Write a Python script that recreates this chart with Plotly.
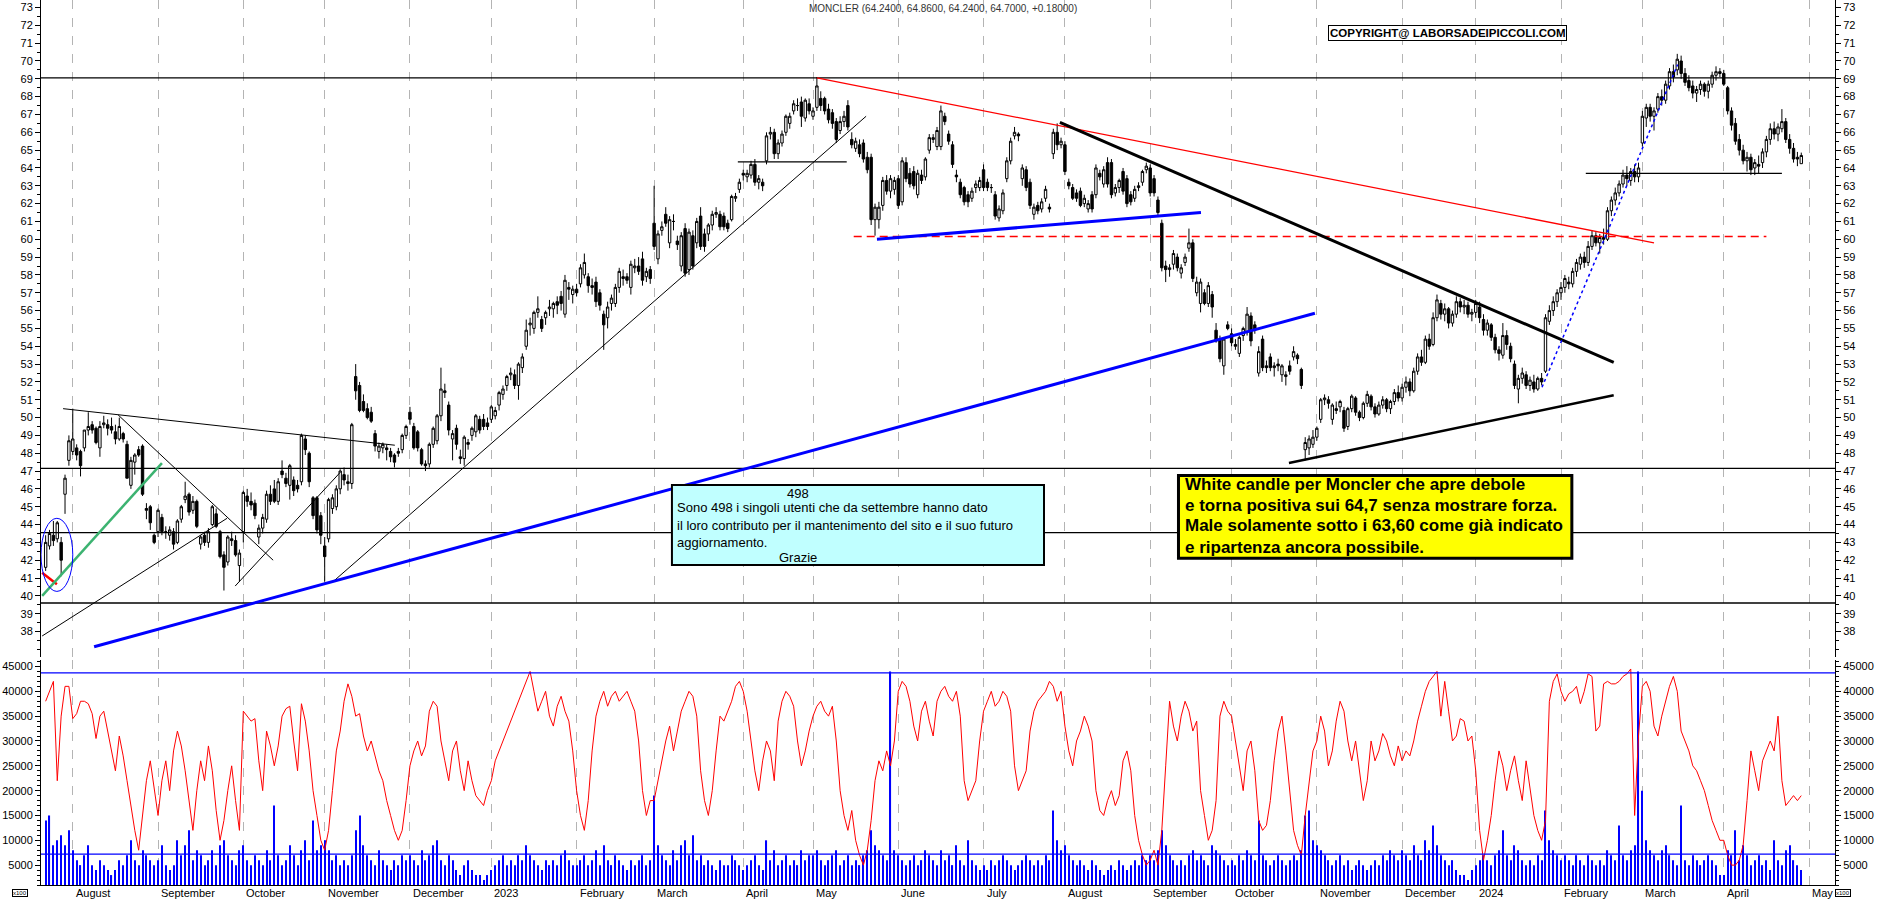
import pandas as pd
import plotly.graph_objects as go

# ---------------- calendar ----------------
first_day = "2022-07-21"
last_day = "2024-04-29"
axis_end = "2024-05-10"
holidays = ["2022-08-15", "2022-12-26", "2023-04-07", "2023-04-10", "2023-05-01",
            "2023-08-15", "2023-12-25", "2023-12-26", "2024-01-01", "2024-05-01"]
month_labels = ["August", "September", "October", "November", "December", "2023",
                "February", "March", "April", "May", "June", "July", "August",
                "September", "October", "November", "December", "2024", "February",
                "March", "April", "May"]

# ---------------- daily candles (open, high, low, close) per month ----------------
c_2022_07 = [(41.6,43.4,41.4,43.0),(42.8,43.7,42.6,43.5),(43.4,44.2,42.8,43.1),(43.2,44.2,43.0,44.1),
             (43.0,43.3,41.1,42.0),(45.7,46.8,44.6,46.6),(47.6,49.0,47.3,48.7)]
c_2022_08 = [(48.1,50.5,47.9,48.8),(48.3,48.5,47.6,47.9),(48.1,48.2,46.7,47.3),(48.3,49.3,48.1,49.3),
             (49.3,50.3,49.0,49.5),(49.6,49.8,49.1,49.3),(49.4,49.5,48.5,48.6),(48.3,49.8,47.8,49.5),
             (49.6,50.1,49.4,49.7),(49.6,49.9,49.0,49.4),(49.5,50.0,49.1,49.3),(49.2,49.6,48.5,48.8),
             (48.8,50.0,48.7,49.5),(49.1,49.2,48.6,48.8),(48.5,48.7,46.6,46.6),(46.2,47.8,46.0,47.6),
             (47.5,48.0,46.8,47.9),(48.2,48.4,47.8,47.9),(48.4,48.5,45.6,45.7),(44.9,45.2,44.3,44.8),
             (45.0,45.1,43.7,44.1),(43.4,43.5,42.9,43.0)]
c_2022_09 = [(43.6,44.9,43.3,44.8),(44.4,44.6,43.4,43.6),(43.6,43.9,43.2,43.6),(43.4,43.9,43.1,43.7),
             (43.6,43.8,42.6,42.9),(43.0,44.3,42.9,44.2),(44.3,45.1,44.1,45.0),(45.4,46.4,45.2,45.6),
             (45.7,45.8,44.5,44.7),(44.8,45.6,44.6,45.3),(45.3,45.4,43.8,43.9),(42.9,43.4,42.6,43.3),
             (43.4,43.6,42.8,43.0),(43.0,43.8,42.7,43.6),(44.0,45.1,43.9,45.0),(44.6,44.9,43.8,43.9),
             (43.6,43.7,42.1,42.2),(42.3,42.5,40.3,41.6),(41.9,43.4,41.7,43.3),(43.2,43.6,42.8,43.1),
             (43.1,43.4,42.2,42.3),(41.7,42.6,40.8,42.4)]
c_2022_10 = [(43.6,45.9,43.0,45.8),(45.6,46.0,45.0,45.3),(45.3,45.8,44.8,45.1),(45.2,45.4,44.3,44.5),
             (43.3,44.0,42.9,43.8),(43.8,44.6,43.5,44.4),(44.3,45.9,44.1,45.7),(45.7,46.2,45.1,45.3),
             (46.0,46.5,45.2,45.3),(45.3,46.6,45.1,46.4),(47.0,47.6,46.6,46.8),(46.6,46.9,46.1,46.3),
             (46.2,47.4,45.4,47.3),(46.5,46.7,45.6,45.9),(46.2,46.5,45.8,46.0),(46.4,49.1,46.2,49.0),
             (48.8,49.0,47.9,48.2),(48.0,48.1,46.1,46.4),(45.5,45.6,44.3,44.5),(45.5,45.6,43.5,43.7),
             (44.5,44.7,42.9,43.4)]
c_2022_11 = [(42.8,43.3,40.8,42.2),(43.2,45.5,43.0,45.4),(44.9,45.7,44.6,45.5),(45.0,46.2,44.8,46.0),
             (46.0,47.1,45.7,47.0),(46.8,47.2,46.2,46.5),(46.4,46.8,45.9,46.3),(46.3,49.7,46.0,49.6),
             (52.3,53.0,51.0,51.5),(51.8,52.0,50.3,50.4),(50.9,51.3,50.3,50.4),(50.5,50.8,49.9,50.0),
             (50.3,50.6,49.7,49.8),(49.1,49.3,48.1,48.4),(48.1,48.6,47.7,48.4),(48.3,48.6,48.0,48.5),
             (48.3,48.5,47.6,48.2),(48.1,48.3,47.5,47.8),(47.9,48.0,47.2,47.5),(48.1,48.3,47.8,48.0),
             (48.2,49.1,48.0,49.0),(49.0,49.6,48.8,49.5)]
c_2022_12 = [(50.3,50.6,49.6,49.9),(49.5,49.7,48.2,48.3),(49.2,49.3,48.1,48.3),(48.2,48.3,47.3,47.4),
             (47.4,47.6,47.0,47.3),(47.4,48.6,47.2,48.5),(48.5,49.5,48.3,49.4),(48.7,50.2,48.5,50.1),
             (50.1,52.8,49.8,51.6),(51.5,51.9,51.1,51.4),(50.7,50.9,49.0,49.3),(48.8,49.3,47.6,49.1),
             (49.4,49.6,48.2,48.5),(47.8,48.2,47.4,47.7),(47.7,49.0,47.3,48.9),(48.6,48.8,48.2,48.5),
             (49.0,49.5,48.7,49.4),(49.2,50.2,48.9,50.1),(49.9,50.1,49.1,49.3),(49.9,50.2,49.3,49.5),
             (49.7,50.0,49.3,49.5)]
c_2023_01 = [(49.9,50.7,49.7,50.6),(50.1,50.6,49.9,50.4),(50.7,51.5,50.4,51.4),(51.3,51.8,51.0,51.6),
             (51.8,52.4,51.5,52.3),(52.4,52.8,52.1,52.5),(52.4,52.7,51.6,51.8),(51.8,53.1,51.0,53.0),
             (52.8,53.6,52.5,53.4),(54.0,55.5,53.8,54.9),(55.2,55.6,54.6,55.3),(55.0,56.0,54.7,55.9),
             (55.9,56.8,55.6,56.1),(55.5,55.7,54.8,55.0),(55.6,56.0,55.2,55.9),(56.1,56.6,55.7,56.2),
             (56.1,56.5,55.6,56.4),(56.5,56.8,55.8,56.3),(56.8,57.1,56.0,56.4),(55.8,58.0,55.6,57.7),
             (57.3,57.6,56.6,57.2),(56.9,57.4,56.4,57.2)]
c_2023_02 = [(57.2,57.5,56.8,57.0),(57.5,58.6,57.3,58.4),(58.0,59.2,57.8,58.7),(57.9,58.1,57.0,57.4),
             (57.4,57.8,56.9,57.3),(57.6,57.9,56.2,56.5),(57.0,57.2,56.0,56.3),(55.8,56.0,53.8,55.2),
             (55.6,56.5,55.0,56.2),(56.4,56.9,56.0,56.7),(56.4,57.5,56.2,57.3),(57.3,58.4,57.0,58.2),
             (57.9,58.3,57.4,57.8),(57.9,58.1,57.5,57.7),(57.3,58.8,56.9,58.6),(58.4,58.9,58.1,58.5),
             (58.5,59.0,58.0,58.2),(58.9,59.3,57.4,57.7),(57.9,58.4,57.6,58.2),(58.3,58.5,57.5,57.8)]
c_2023_03 = [(60.9,63.0,59.4,59.6),(58.9,60.5,58.6,60.3),(60.5,61.0,60.2,60.7),(61.4,61.8,60.7,60.9),
             (59.8,61.3,59.5,61.1),(61.0,61.4,60.5,61.0),(59.9,60.2,59.4,59.7),(58.5,60.4,58.2,60.2),
             (60.6,60.9,57.9,58.1),(58.3,60.6,58.0,60.4),(60.2,60.5,58.3,58.5),(59.8,61.2,59.5,61.0),
             (61.3,61.8,59.4,59.6),(60.3,60.6,59.3,59.6),(60.3,60.9,59.9,60.8),(60.8,61.6,60.5,61.4),
             (61.4,61.8,61.2,61.5),(61.4,61.6,60.5,60.7),(61.3,61.5,60.5,60.7),(60.9,61.1,60.4,60.6),
             (61.1,62.5,61.0,62.4),(62.3,62.6,62.1,62.4),(62.8,63.4,62.6,63.2)]
c_2023_04 = [(63.7,63.9,63.3,63.6),(63.5,63.9,63.2,63.7),(63.6,64.4,63.4,64.2),(64.2,64.5,63.0,63.2),
             (63.2,63.6,62.8,63.4),(63.2,63.4,62.7,63.0),(64.4,66.0,64.2,65.8),(65.9,66.3,65.6,66.0),
             (66.0,66.2,64.5,64.8),(64.8,65.6,64.5,65.4),(65.4,66.1,65.2,65.9),(66.0,67.0,65.8,66.9),
             (66.5,67.1,66.2,66.9),(67.2,67.8,67.0,67.6),(67.5,67.9,67.2,67.5),(67.7,68.0,66.3,66.9),
             (66.8,67.9,66.6,67.8),(67.6,67.9,67.0,67.2)]
c_2023_05 = [(66.9,67.4,66.7,67.2),(67.4,69.1,67.2,68.6),(67.9,68.3,67.2,67.5),(67.9,68.0,67.0,67.2),
             (67.3,67.6,66.5,66.7),(67.1,67.3,66.2,66.5),(66.6,66.8,65.4,65.6),(66.1,66.9,65.9,66.6),
             (66.6,67.2,66.3,66.9),(67.5,67.8,66.1,66.3),(65.6,66.0,65.1,65.3),(65.1,65.7,64.9,65.5),
             (65.3,65.6,64.6,64.8),(65.4,65.6,64.3,64.5),(64.6,64.9,63.7,63.9),(64.6,64.8,60.8,61.1),
             (61.1,62.0,60.2,61.8),(61.1,62.1,60.6,61.8),(61.9,63.5,61.6,63.3),(63.3,63.6,62.5,62.7),
             (62.7,63.6,62.3,63.4),(62.8,63.5,62.5,63.3)]
c_2023_06 = [(63.4,63.6,61.7,61.9),(62.1,64.6,61.9,64.4),(64.3,64.6,63.2,63.4),(63.7,64.0,62.9,63.1),
             (63.8,64.1,62.8,63.0),(62.5,63.9,62.3,63.7),(63.6,63.9,63.1,63.3),(63.5,64.6,63.3,64.5),
             (65.0,65.9,64.8,65.7),(65.6,65.9,65.4,65.7),(65.2,66.3,65.0,66.1),(65.2,67.5,65.0,67.2),
             (66.9,67.1,66.4,66.6),(65.9,66.1,65.3,65.5),(65.3,65.5,64.0,64.2),(63.6,63.9,63.2,63.5),
             (63.2,63.4,62.3,62.5),(62.9,63.0,61.9,62.1),(62.5,62.7,61.8,62.1),(62.3,62.9,62.1,62.7),
             (62.9,63.3,62.6,63.1),(62.9,63.5,62.7,63.3)]
c_2023_07 = [(63.9,64.2,62.7,62.9),(63.2,63.4,62.7,62.9),(62.9,63.1,62.6,62.9),(62.5,62.7,61.1,61.3),
             (61.2,61.9,61.0,61.7),(61.6,62.8,61.4,62.6),(63.4,64.6,63.2,64.4),(64.4,65.7,64.2,65.5),
             (65.8,66.3,65.6,66.0),(65.9,66.0,65.5,65.8),(63.4,64.2,63.0,64.0),(63.9,64.1,62.7,62.9),
             (63.2,63.4,61.7,61.9),(61.4,62.0,61.1,61.8),(61.9,62.1,61.4,61.6),(61.7,62.3,61.5,62.1),
             (62.3,63.0,62.1,62.8),(61.8,62.0,61.5,61.7),(64.8,66.2,64.5,66.0),(66.0,66.5,65.0,65.3),
             (65.3,65.7,65.1,65.5)]
c_2023_08 = [(65.3,65.5,63.6,63.8),(63.2,63.4,62.8,63.0),(62.9,63.1,62.2,62.3),(62.6,62.8,62.1,62.3),
             (62.7,62.9,61.8,61.9),(62.0,62.5,61.8,62.3),(61.7,62.2,61.5,62.0),(62.5,62.7,61.5,61.7),
             (62.5,64.2,62.3,64.0),(63.7,63.9,63.3,63.5),(63.1,64.1,62.9,63.9),(64.3,64.6,62.9,63.1),
             (64.3,64.5,62.3,62.5),(62.6,63.1,62.4,62.9),(62.9,63.4,62.6,63.3),(63.8,64.0,62.5,62.7),
             (63.4,63.6,61.8,62.0),(62.5,62.7,61.9,62.1),(62.3,63.0,62.1,62.8),(62.9,63.2,62.7,63.0),
             (63.2,63.9,63.0,63.8),(63.9,64.3,63.7,64.1)]
c_2023_09 = [(64.0,64.2,62.4,62.6),(63.4,63.6,62.4,62.6),(62.2,62.4,61.3,61.5),(60.9,61.1,58.2,58.4),
             (58.5,58.8,57.6,58.3),(58.3,58.6,57.9,58.4),(58.6,59.4,58.3,59.2),(59.0,59.2,58.2,58.4),
             (58.1,58.6,57.8,58.4),(58.7,59.2,58.5,59.0),(59.5,60.6,59.3,59.8),(59.8,60.0,57.6,57.8),
             (57.0,57.9,56.8,57.6),(56.4,57.8,55.9,57.6),(57.0,57.2,56.3,56.4),(56.4,57.6,56.2,57.4),
             (56.9,57.1,55.6,56.2),(54.9,55.3,54.2,54.3),(54.4,54.6,53.1,53.3),(52.9,54.5,52.4,54.4),
             (55.2,55.4,54.9,55.0)]
c_2023_10 = [(54.7,55.0,54.0,54.2),(54.1,54.4,53.8,54.0),(53.6,54.6,53.4,54.5),(54.6,55.1,54.3,55.0),
             (54.8,56.2,54.6,55.8),(55.7,55.9,54.0,54.3),(55.2,55.4,54.7,54.9),(52.5,54.0,52.3,53.7),
             (54.4,54.6,52.6,52.8),(52.9,53.2,52.5,52.8),(53.4,53.6,52.6,52.8),(52.8,53.1,52.3,52.9),
             (53.0,53.3,52.6,52.9),(52.4,53.0,52.0,52.9),(52.3,52.6,51.8,52.4),(52.9,53.2,52.4,52.6),
             (53.4,54.0,53.2,53.7),(53.5,53.6,53.0,53.3),(52.7,52.8,51.6,51.8),(48.2,48.9,47.6,48.6),
             (48.3,49.0,47.9,48.8),(48.5,49.3,48.3,48.9)]
c_2023_11 = [(48.9,49.5,48.7,49.4),(49.9,51.1,49.7,51.0),(51.0,51.3,50.7,51.1),(51.0,51.2,50.5,50.8),
             (49.9,50.8,49.6,50.7),(50.5,50.9,50.2,50.4),(50.6,51.0,50.3,50.9),(50.4,50.6,49.2,49.4),
             (49.5,50.6,49.3,50.5),(50.5,51.3,50.3,51.2),(51.1,51.2,50.1,50.3),(50.3,50.4,49.8,50.0),
             (50.0,50.9,49.9,50.8),(50.8,51.5,50.6,51.3),(51.2,51.3,50.4,50.6),(50.6,50.8,50.0,50.2),
             (50.2,50.9,50.1,50.7),(50.7,51.2,50.5,51.0),(51.0,51.1,50.3,50.5),(50.5,51.0,50.2,50.9),
             (50.9,51.6,50.7,51.4),(51.4,51.8,50.9,51.1)]
c_2023_12 = [(51.1,51.9,50.9,51.7),(51.7,52.3,51.4,52.0),(52.0,52.2,51.2,51.5),(51.5,52.8,51.4,52.6),
             (52.6,53.6,52.4,53.4),(53.4,53.8,52.9,53.1),(53.1,54.6,53.0,54.4),(54.4,54.7,53.8,54.0),
             (54.1,55.9,54.0,55.6),(55.6,56.9,55.4,56.6),(56.4,56.6,55.5,55.8),(55.8,56.4,55.4,56.1),
             (56.1,56.2,55.0,55.3),(55.3,56.0,55.1,55.8),(55.8,56.8,55.6,56.5),(56.5,56.7,55.9,56.2),
             (56.2,56.6,55.8,56.3),(56.3,56.5,55.6,55.8),(55.8,56.1,55.4,55.9)]
c_2024_01 = [(55.9,56.6,55.6,56.4),(56.2,56.5,55.3,55.6),(55.5,55.8,54.6,54.9),(54.9,55.5,54.6,55.3),
             (55.2,55.3,54.3,54.5),(54.5,54.7,53.6,53.8),(53.8,54.0,53.2,53.6),(53.5,55.3,53.3,54.6),
             (54.6,54.9,53.8,54.1),(54.0,54.2,53.1,53.3),(53.0,53.2,51.6,51.8),(51.6,52.4,50.8,52.2),
             (52.2,52.8,51.9,52.5),(52.4,52.6,51.6,51.8),(51.8,52.3,51.5,52.1),(52.0,52.4,51.4,51.6),
             (51.6,52.3,51.5,52.2),(52.2,52.5,51.8,52.0),(52.6,55.8,52.5,55.6),(55.4,56.3,55.2,56.0),
             (56.0,56.8,55.7,56.5),(56.5,57.2,56.2,57.0)]
c_2024_02 = [(57.0,57.6,56.6,57.3),(57.3,58.0,57.0,57.8),(57.6,57.9,57.2,57.5),(57.5,58.4,57.3,58.2),
             (58.2,58.9,57.9,58.7),(58.6,59.2,58.3,59.0),(59.0,59.3,58.4,58.7),(58.7,59.9,58.5,59.6),
             (59.6,60.5,59.4,60.2),(60.2,60.4,59.6,59.8),(59.8,60.3,59.2,60.1),(60.1,60.6,59.7,60.0),
             (60.0,61.8,59.9,61.6),(61.6,62.4,61.3,62.2),(62.2,62.9,61.9,62.6),(62.6,63.3,62.4,63.1),
             (63.1,63.9,62.9,63.6),(63.6,64.1,63.0,63.4),(63.3,64.0,63.0,63.8),(63.8,64.2,63.2,63.5),
             (63.5,64.3,63.2,64.0)]
c_2024_03 = [(65.4,67.2,65.2,66.9),(66.8,67.6,66.3,67.4),(67.4,67.6,66.6,66.9),(66.9,67.4,66.1,67.2),
             (67.3,68.2,67.1,68.0),(68.0,68.4,67.5,67.8),(67.8,68.9,67.6,68.7),(68.6,69.6,68.4,69.4),
             (69.4,69.8,68.8,69.1),(69.5,70.4,69.2,70.1),(70.0,70.3,69.0,69.3),(69.3,69.6,68.6,68.8),
             (68.9,69.2,68.3,68.5),(68.6,68.9,67.9,68.2),(68.2,68.6,67.7,68.4),(68.4,68.9,68.1,68.7),
             (68.7,68.8,68.0,68.3),(68.3,68.9,67.9,68.7),(68.7,69.4,68.5,69.2),(69.2,69.7,68.9,69.4),
             (69.4,69.6,69.1,69.3)]
c_2024_04 = [(69.3,69.5,68.6,68.7),(68.5,68.6,67.0,67.2),(67.2,67.4,66.1,66.4),(66.5,66.8,65.3,65.5),
             (65.6,65.9,64.7,65.0),(65.0,65.3,64.2,64.4),(64.4,64.9,63.8,64.6),(64.6,64.8,63.6,63.9),
             (64.0,64.5,63.6,64.3),(64.2,64.7,63.7,64.1),(64.3,65.1,64.0,64.9),(64.9,65.8,64.6,65.6),
             (65.6,66.5,65.3,66.2),(66.2,66.6,65.6,65.9),(65.9,66.5,65.5,66.3),(66.2,67.3,66.0,66.6),
             (66.6,66.8,65.4,65.6),(65.6,65.9,64.8,65.1),(65.1,65.4,64.3,64.5),(64.6,64.9,64.1,64.5),
             (64.24,64.86,64.24,64.70)]

# ---------------- volume (thousands) per month ----------------
v_2022_07 = [14,15,9,10,11,9,12]
v_2022_08 = [8,6,5,7,9,5,4,6,5,4,3,4,6,5,7,10,6,5,8,7,6,5]
v_2022_09 = [6,9,5,4,5,10,7,9,12,6,8,7,5,6,8,5,9,10,7,6,5,8]
v_2022_10 = [9,6,5,7,6,5,8,6,17,7,5,6,9,7,5,8,10,6,14,8,9]
v_2022_11 = [10,8,6,7,5,6,5,7,12,15,9,7,6,5,8,6,5,4,6,5,7,6]
v_2022_12 = [7,6,5,8,6,7,9,10,6,5,7,6,4,3,5,6,4,3,3,2,3]
v_2023_01 = [4,5,6,7,5,6,5,7,6,9,7,6,5,4,6,5,6,5,7,8,6,5]
v_2023_02 = [5,6,7,5,6,8,5,9,6,5,7,6,5,4,6,5,6,7,5,6]
v_2023_03 = [19,9,7,6,5,8,6,9,10,7,11,6,7,5,6,5,4,6,5,5,7,6,5]
v_2023_04 = [4,5,6,7,5,4,10,6,8,5,6,7,5,6,5,8,6,7]
v_2023_05 = [7,8,6,5,6,7,8,5,6,7,5,6,5,7,8,12,9,8,7,6,44,8]
v_2023_06 = [7,6,5,6,7,5,6,8,7,6,5,8,6,7,5,9,6,5,10,6,5,4]
v_2023_07 = [5,4,6,5,6,7,6,5,4,5,6,7,6,5,6,5,7,6,16,10,8]
v_2023_08 = [9,7,6,5,6,5,4,6,5,4,3,4,5,4,6,5,4,5,6,5,7,6]
v_2023_09 = [7,6,8,12,9,7,6,5,6,5,7,8,6,7,6,5,9,8,7,6,5]
v_2023_10 = [6,5,7,6,8,7,6,14,7,6,5,6,7,6,5,6,7,6,8,15,16,10]
v_2023_11 = [9,8,7,6,5,6,7,5,6,4,5,6,5,4,5,6,5,7,6,8,7,6]
v_2023_12 = [8,7,6,9,7,6,10,8,13,9,7,6,5,6,4,3,3,2,4]
v_2024_01 = [5,6,7,6,5,7,8,12,7,6,9,8,6,5,6,5,7,6,16,10,8,7]
v_2024_02 = [6,7,6,5,7,6,5,7,6,5,6,5,8,7,6,13,7,6,8,9,44]
v_2024_03 = [20,10,8,7,6,8,9,7,6,5,17,6,5,7,6,5,6,7,6,5,3]
v_2024_04 = [3,8,7,12,6,9,7,5,6,7,5,6,4,10,6,5,8,9,6,5,4]

# ---------------- red indicator (thousands) per month ----------------
r_2022_07 = [38,40,42,22,35,41,41]
r_2022_08 = [34.5,35.5,38,38,37.5,35.5,30.5,35,36,32,28,24,31,27,22,17,12,8,15,22,26,20]
r_2022_09 = [15,22,26,20,28,32,29,24,18,12,20,26,22,29,24,16,10,14,20,25,18,12]
r_2022_10 = [36,35,34,34.5,26,20,32,29,25,29,35,36.5,37,30,24,37.5,34,28,20,15,10]
r_2022_11 = [8,12,20,28,32,38,41.5,39,35,35.5,31,28,30,27,24,22,18,15,12,10,12,18]
r_2022_12 = [25,28,30,27,29,36,38,37,30,26,22,28,30,24,20,26,22,19,18,17,20]
r_2023_01 = [22,26,28,30,32,34,36,38,40,42,44,40,36,38,40,35,33,37,39,36,34,28]
r_2023_02 = [20,15,12,18,28,35,38,40,37,39,40,38,39,40,38,36,30,20,15,18]
r_2023_03 = [18,22,26,30,33,28,32,36,38,40,39,35,24,18,15,20,28,35,34,36,38,41,42]
r_2023_04 = [40,36,30,24,20,26,30,28,22,34,38,40,39,37,30,25,28,32]
r_2023_05 = [35,37,38,36,35,37,30,20,15,12,16,10,7,5,8,14,22,26,24,28,25,30]
r_2023_06 = [40,42,41,38,33,30,36,38,34,31,38,40,41,39,38,40,35,22,18,20,22,30]
r_2023_07 = [36,38,40,37,38,40,39,36,25,20,22,24,32,36,38,39,40,42,41,38,40]
r_2023_08 = [33,28,25,30,32,35,33,30,20,16,15,18,20,17,19,26,28,24,15,10,7,5]
r_2023_09 = [6,8,5,12,25,38,33,30,35,38,36,32,34,20,15,10,12,18,35,38,36]
r_2023_10 = [35,30,25,20,28,30,24,14,12,13,18,26,32,35,28,20,12,9,7,15,22,28]
r_2023_11 = [30,35,32,25,28,34,38,36,30,26,30,24,18,22,30,26,28,31.5,30,27,25,29]
r_2023_12 = [26,28,27,30,34,37,40,42,43,44,35,42,36,30,31,34.5,34,30,31]
r_2024_01 = [24,12,6,10,15,22,28,25,20,24,27,22,18,26,20,15,12,10,14,38,42,43.5]
r_2024_02 = [40,38,39.5,40,41,37.5,40,43.5,43,32,33,41.5,42,41.5,41.5,42,43,43.5,44.5,15,31]
r_2024_03 = [41,42,40,33,31,35,38,41,43,40,32,30,28,25,24,22,20,17,14,12,10]
r_2024_04 = [10,7,5,5,6,9,18,28,24,20,26,28,30,28,35,22,17,18,19,18,19]

# ---------------- drawn studies (trading-day index, price) ----------------
main_levels = [69.05, 47.15, 43.55, 39.6]
volume_levels = [43700, 7200]
studies = [
    (-0.9, 41.3, 2.9, 40.65, "red", 2.5, "solid"),
    (-0.9, 40.0, 30.0, 47.45, "#3cb371", 2.5, "solid"),
    (-0.9, 37.75, 46.8, 44.35, "black", 1, "solid"),
    (18.7, 50.15, 58.7, 42.0, "black", 1, "solid"),
    (48.9, 40.55, 75.9, 46.9, "black", 1, "solid"),
    (73.9, 40.75, 211.7, 66.9, "black", 1, "solid"),
    (4.5, 50.5, 90.1, 48.45, "black", 1, "solid"),
    (12.5, 37.15, 327.5, 55.85, "blue", 3, "solid"),
    (178.6, 64.34, 206.7, 64.34, "black", 1.3, "solid"),
    (199.0, 69.05, 415.0, 59.8, "red", 1.3, "solid"),
    (208.5, 60.15, 444.0, 60.15, "red", 1.5, "8px,5px"),
    (214.5, 60.0, 298.1, 61.5, "blue", 3, "solid"),
    (261.7, 66.55, 404.6, 53.1, "black", 3, "solid"),
    (320.8, 47.45, 404.6, 51.25, "black", 2.5, "solid"),
    (386.1, 51.7, 421.1, 69.8, "blue", 1.5, "3px,3px"),
    (397.4, 63.7, 448.0, 63.7, "black", 1.3, "solid"),
]

title_text = "MONCLER (64.2400, 64.8600, 64.2400, 64.7000, +0.18000)"
copyright_text = "COPYRIGHT@ LABORSADEIPICCOLI.COM"
cyan_title = "498"
cyan_lines = ["Sono 498 i singoli utenti che da settembre hanno dato",
              "il loro contributo per il mantenimento del sito e il suo futuro",
              "aggiornamento."]
cyan_footer = "Grazie"
yellow_lines = ["White candle per Moncler che apre debole",
                "e torna positiva sui 64,7 senza mostrare forza.",
                "Male solamente sotto i 63,60 come già indicato",
                "e ripartenza ancora possibile."]

# ---------------- assemble ----------------
candle_months = [c_2022_07, c_2022_08, c_2022_09, c_2022_10, c_2022_11, c_2022_12,
                 c_2023_01, c_2023_02, c_2023_03, c_2023_04, c_2023_05, c_2023_06,
                 c_2023_07, c_2023_08, c_2023_09, c_2023_10, c_2023_11, c_2023_12,
                 c_2024_01, c_2024_02, c_2024_03, c_2024_04]
vol_months = [v_2022_07, v_2022_08, v_2022_09, v_2022_10, v_2022_11, v_2022_12,
              v_2023_01, v_2023_02, v_2023_03, v_2023_04, v_2023_05, v_2023_06,
              v_2023_07, v_2023_08, v_2023_09, v_2023_10, v_2023_11, v_2023_12,
              v_2024_01, v_2024_02, v_2024_03, v_2024_04]
red_months = [r_2022_07, r_2022_08, r_2022_09, r_2022_10, r_2022_11, r_2022_12,
              r_2023_01, r_2023_02, r_2023_03, r_2023_04, r_2023_05, r_2023_06,
              r_2023_07, r_2023_08, r_2023_09, r_2023_10, r_2023_11, r_2023_12,
              r_2024_01, r_2024_02, r_2024_03, r_2024_04]

cal = pd.bdate_range(first_day, axis_end)
cal = cal[~cal.isin(pd.to_datetime(holidays))]
month_sizes = pd.Series(cal[cal <= pd.Timestamp(last_day)].to_period("M")).value_counts(sort=False).tolist()
for k, (c, v, r) in enumerate(zip(candle_months, vol_months, red_months)):
    assert len(c) == len(v) == len(r) == month_sizes[k], (k, len(c), len(v), len(r), month_sizes[k])

rows = [row for m in candle_months for row in m]
opens = [row[0] for row in rows]
highs = [max(row) for row in rows]
lows = [min(row) for row in rows]
closes = [row[3] for row in rows]
volume = [x * 1000 for m in vol_months for x in m]
red_line = [x * 1000 for m in red_months for x in m]

n = len(rows)
assert cal[n - 1] == pd.Timestamp(last_day), (n, cal[n - 1])
xs = list(range(n))
month_idx = [i for i in range(1, len(cal)) if cal[i].month != cal[i - 1].month]
assert len(month_idx) == len(month_labels), len(month_idx)

X_RANGE = [-1.2, 461.7]
FONT = "Arial, Liberation Sans, sans-serif"

fig = go.Figure()
fig.add_trace(go.Candlestick(
    x=xs, open=opens, high=highs, low=lows, close=closes,
    increasing=dict(line=dict(color="black", width=1), fillcolor="white"),
    decreasing=dict(line=dict(color="black", width=1), fillcolor="black"),
    whiskerwidth=0, xaxis="x", yaxis="y", hoverinfo="skip", showlegend=False))
fig.add_trace(go.Bar(x=xs, y=volume, width=0.28, marker=dict(color="blue", line=dict(width=0)),
                     xaxis="x2", yaxis="y2", hoverinfo="skip", showlegend=False))
fig.add_trace(go.Scatter(x=xs, y=red_line, mode="lines", line=dict(color="red", width=1),
                         xaxis="x2", yaxis="y2", hoverinfo="skip", showlegend=False))
fig.add_trace(go.Scatter(x=[0], y=[50], mode="markers", marker=dict(opacity=0),
                         xaxis="x", yaxis="y3", hoverinfo="skip", showlegend=False))
fig.add_trace(go.Scatter(x=[0], y=[20000], mode="markers", marker=dict(opacity=0),
                         xaxis="x2", yaxis="y4", hoverinfo="skip", showlegend=False))

grid = dict(showgrid=True, gridcolor="#b4b4b4", griddash="dash", gridwidth=1)
tickfont = dict(family=FONT, size=11, color="black")
price_ticks = list(range(38, 74))
vol_ticks = list(range(5000, 45001, 5000))
main_range = [36.57, 73.42]
vol_range = [1000, 46300]

def yax(**kw):
    d = dict(showline=True, linecolor="black", linewidth=1, ticks="outside", ticklen=5,
             tickcolor="black", showgrid=False, zeroline=False, tickfont=tickfont,
             tickmode="array")
    d.update(kw)
    return d

minor_price = dict(tickmode="linear", tick0=0, dtick=0.5, ticks="outside", ticklen=3,
                   tickcolor="black", showgrid=False)
minor_vol = dict(tickmode="linear", tick0=0, dtick=1000, ticks="outside", ticklen=3,
                 tickcolor="black", showgrid=False)

fig.update_layout(
    width=1890, height=903, margin=dict(l=41, r=55, t=0, b=18),
    paper_bgcolor="white", plot_bgcolor="white", showlegend=False, boxgap=0.12,
    xaxis=dict(domain=[0, 1], range=X_RANGE, anchor="y", tickmode="array", tickvals=month_idx,
               showticklabels=False, ticks="", zeroline=False, rangeslider=dict(visible=False), **grid),
    xaxis2=dict(domain=[0, 1], range=X_RANGE, anchor="y2", matches="x", tickmode="array",
                tickvals=month_idx, showticklabels=False, ticks="", zeroline=False,
                showline=True, linecolor="black", linewidth=1, **grid),
    yaxis=yax(domain=[0.2576, 1], range=main_range, tickvals=price_ticks, minor=minor_price),
    yaxis3=yax(overlaying="y", side="right", anchor="x", range=main_range, tickvals=price_ticks,
               minor=minor_price),
    yaxis2=yax(domain=[0, 0.2542], range=vol_range, tickvals=vol_ticks, tickformat="d", minor=minor_vol),
    yaxis4=yax(overlaying="y2", side="right", anchor="x2", range=vol_range, tickvals=vol_ticks,
               tickformat="d", minor=minor_vol),
)

shapes = []
for lv in main_levels:
    shapes.append(dict(type="line", xref="x", yref="y", x0=X_RANGE[0], x1=X_RANGE[1], y0=lv, y1=lv,
                       line=dict(color="black", width=1.3)))
for lv in volume_levels:
    shapes.append(dict(type="line", xref="x2", yref="y2", x0=X_RANGE[0], x1=X_RANGE[1], y0=lv, y1=lv,
                       line=dict(color="blue", width=1.2)))
for (x0, y0, x1, y1, col, w, dash) in studies:
    shapes.append(dict(type="line", xref="x", yref="y", x0=x0, y0=y0, x1=x1, y1=y1,
                       line=dict(color=col, width=w, dash=dash)))
shapes.append(dict(type="circle", xref="x", yref="y", x0=-1.2, x1=7.0, y0=40.25, y1=44.35,
                   line=dict(color="blue", width=1)))
shapes.append(dict(type="rect", xref="x", yref="y", x0=161.6, x1=257.6, y0=41.73, y1=46.22,
                   fillcolor="#c0ffff", line=dict(color="black", width=2)))
shapes.append(dict(type="rect", xref="x", yref="y", x0=292.3, x1=393.8, y0=42.11, y1=46.75,
                   fillcolor="#ffff00", line=dict(color="black", width=3)))
fig.update_layout(shapes=shapes)

ann = []
ann.append(dict(text=title_text, xref="paper", yref="paper", x=0.503, y=1, yanchor="top",
                yshift=-1, showarrow=False, font=dict(family=FONT, size=10, color="#333333")))
ann.append(dict(text="<b>" + copyright_text + "</b>", xref="x", yref="y", x=361.8, y=71.55,
                showarrow=False, bgcolor="white", bordercolor="black", borderwidth=1, borderpad=1,
                font=dict(family=FONT, size=11.5, color="black")))
ann.append(dict(text=cyan_title, xref="x", yref="y", x=194.1, y=45.75, showarrow=False,
                font=dict(family=FONT, size=13, color="black")))
for txt, yy in zip(cyan_lines, [44.98, 43.93, 42.99]):
    ann.append(dict(text=txt, xref="x", yref="y", x=162.4, y=yy, xanchor="left", showarrow=False,
                    font=dict(family=FONT, size=13, color="black")))
ann.append(dict(text=cyan_footer, xref="x", yref="y", x=194.1, y=42.13, showarrow=False,
                font=dict(family=FONT, size=13, color="black")))
for txt, yy in zip(yellow_lines, [46.22, 45.07, 43.93, 42.72]):
    ann.append(dict(text="<b>" + txt + "</b>", xref="x", yref="y", x=293.4, y=yy, xanchor="left",
                    showarrow=False, font=dict(family=FONT, size=17, color="black")))
for i, lab in zip(month_idx, month_labels):
    ann.append(dict(text=lab, xref="x2", yref="paper", x=i, y=0, xanchor="left", yanchor="top",
                    xshift=1, yshift=0, showarrow=False, font=dict(family=FONT, size=11, color="black")))
for xp in [-0.016, 1.009]:
    ann.append(dict(text="x100", xref="paper", yref="paper", x=xp, y=-0.004, yanchor="top",
                    showarrow=False, bordercolor="black", borderwidth=1, borderpad=0,
                    font=dict(family=FONT, size=6, color="black")))
fig.update_layout(annotations=ann)

fig.write_html("out.html", config={"displayModeBar": False},
               post_script="document.body.style.margin='0px';document.body.style.overflow='hidden';")
